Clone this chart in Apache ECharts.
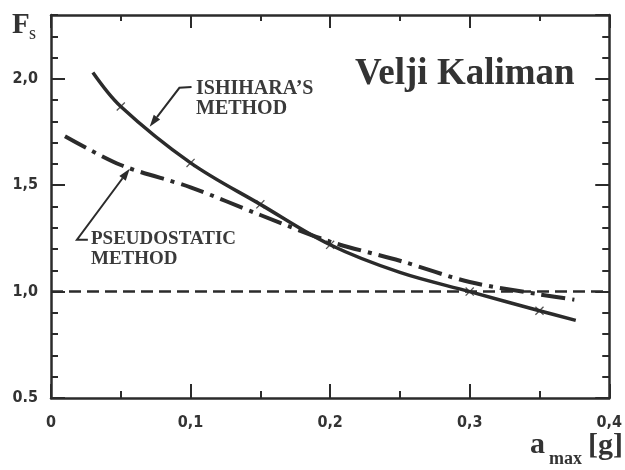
<!DOCTYPE html>
<html><head><meta charset="utf-8">
<script src="https://cdn.jsdelivr.net/npm/echarts@6/dist/echarts.min.js"></script>
<style>html,body{margin:0;padding:0;background:#fff}#c{width:625px;height:470px}</style>
</head><body><div id="c"></div>
<script>
// ---- data ----
const ishiharaX = [0.03, 0.05, 0.1, 0.15, 0.2, 0.25, 0.3, 0.35, 0.376];
const ishiharaY = [2.03, 1.87, 1.605, 1.41, 1.22, 1.09, 1.0, 0.91, 0.865];
const ishiharaMarkX = [0.05, 0.1, 0.15, 0.2, 0.3, 0.35];
const ishiharaMarkY = [1.87, 1.605, 1.41, 1.22, 1.0, 0.91];
const pseudoX = [0.01, 0.05, 0.1, 0.15, 0.2, 0.25, 0.3, 0.35, 0.375];
const pseudoY = [1.73, 1.595, 1.49, 1.36, 1.235, 1.145, 1.045, 0.987, 0.962];
const refX = [0, 0.4];
const refY = [1.0, 1.0];
const xTickValues = [0, 0.1, 0.2, 0.3, 0.4];
const xTickLabels = ['0', '0,1', '0,2', '0,3', '0,4'];
const yTickValues = [0.5, 1.0, 1.5, 2.0];
const yTickLabels = ['0.5', '1,0', '1,5', '2,0'];

const INK = '#2b2b2b';
const zip = (xs, ys) => xs.map((x, i) => [x, ys[i]]);
const findLabel = (vals, labels, v) => {
  for (let i = 0; i < vals.length; i++) if (Math.abs(vals[i] - v) < 1e-6) return labels[i];
  return '';
};
const labelFont = { fontFamily: '"Liberation Sans Narrow", "DejaVu Sans Condensed", sans-serif',
  fontWeight: 'bold', fontSize: 16, color: '#333' };

function xAx(pos, major, minor, showLabel) {
  return {
    type: 'value', position: pos, min: 0, max: 0.4, interval: 0.1,
    axisLine: { show: true, lineStyle: { color: INK, width: 2.5 } },
    axisTick: { show: true, inside: true, length: major, lineStyle: { color: INK, width: 2 } },
    minorTick: { show: true, splitNumber: 2, length: minor, lineStyle: { color: INK, width: 2 } },
    splitLine: { show: false },
    axisLabel: Object.assign({ show: showLabel, margin: 17,
      formatter: v => findLabel(xTickValues, xTickLabels, v) }, labelFont)
  };
}
function yAx(pos, interval, len, showLabel, showLine) {
  return {
    type: 'value', position: pos, min: 0.5, max: 2.3, interval: interval,
    axisLine: { show: showLine, lineStyle: { color: INK, width: 2.5 } },
    axisTick: { show: true, inside: true, length: len, lineStyle: { color: INK, width: 2 } },
    splitLine: { show: false },
    axisLabel: Object.assign({ show: showLabel, margin: 13, showMaxLabel: false,
      formatter: v => findLabel(yTickValues, yTickLabels, v) }, labelFont)
  };
}

const chart = echarts.init(document.getElementById('c'), null, { renderer: 'canvas' });
chart.setOption({
  animation: false,
  backgroundColor: '#fff',
  grid: { left: 51, right: 13, top: 15, bottom: 72 },
  xAxis: [xAx('bottom', 14, 7, true), xAx('top', 13, 6, false)],
  yAxis: [
    yAx('left', 0.5, 14, true, true),
    yAx('left', 0.1, 7, false, false),
    yAx('right', 0.5, 14, false, true),
    yAx('right', 0.1, 7, false, false)
  ],
  series: [
    { type: 'line', name: 'ref', data: zip(refX, refY), showSymbol: false, silent: true,
      lineStyle: { color: INK, width: 2.5, type: [12, 6] } },
    { type: 'line', name: 'pseudostatic', data: zip(pseudoX, pseudoY), smooth: 0.3,
      showSymbol: false, silent: true,
      lineStyle: { color: INK, width: 4, type: [24, 7, 4, 7] } },
    { type: 'line', name: 'ishihara', data: zip(ishiharaX, ishiharaY), smooth: 0.35,
      showSymbol: false, silent: true,
      lineStyle: { color: INK, width: 3.5 } },
    { type: 'scatter', name: 'marks', data: zip(ishiharaMarkX, ishiharaMarkY), silent: true,
      symbol: 'path://M0,1L1,0L5,4L9,0L10,1L6,5L10,9L9,10L5,6L1,10L0,9L4,5Z',
      symbolSize: 9, itemStyle: { color: INK } }
  ]
});

// ---- annotations ----
const px = (pt) => chart.convertToPixel({ xAxisIndex: 0, yAxisIndex: 0 }, pt);
function arrow(ptsData) {
  const pts = ptsData.map(px);
  const T = pts[pts.length - 1], P = pts[pts.length - 2];
  const dx = T[0] - P[0], dy = T[1] - P[1], L = Math.hypot(dx, dy);
  const ux = dx / L, uy = dy / L, nx = -uy, ny = ux;
  const bx = T[0] - ux * 12, by = T[1] - uy * 12;
  return [
    { type: 'polyline', silent: true, shape: { points: pts.slice(0, -1).concat([[bx, by]]) },
      style: { stroke: INK, lineWidth: 2, fill: null } },
    { type: 'polygon', silent: true,
      shape: { points: [T, [bx + nx * 4, by + ny * 4], [bx - nx * 4, by - ny * 4]] },
      style: { fill: INK } }
  ];
}
const serif = '"Liberation Serif", "Times New Roman", serif';
const txt = (text, x, y, font, fill) => ({
  type: 'text', silent: true, x: x, y: y,
  style: { text: text, font: font, fill: fill || '#333', align: 'left', verticalAlign: 'middle' }
});
chart.setOption({
  graphic: [].concat(
    arrow([[0.1007, 1.962], [0.092, 1.958], [0.0707, 1.775]]),
    arrow([[0.0264, 1.244], [0.0186, 1.244], [0.0564, 1.578]]),
    [
      txt('ISHIHARA\u2019S', 196, 89, 'bold 20px ' + serif, '#3a3a3a'),
      txt('METHOD', 196, 109, 'bold 20px ' + serif, '#3a3a3a'),
      txt('PSEUDOSTATIC', 91, 239, 'bold 19px ' + serif, '#3a3a3a'),
      txt('METHOD', 91, 259, 'bold 19px ' + serif, '#3a3a3a'),
      txt('Velji Kaliman', 355, 74, 'bold 37px ' + serif, '#333'),
      txt('F', 12, 26, 'bold 29px ' + serif, '#333'),
      txt('s', 29, 34, '18px ' + serif, '#333'),
      txt('a', 530, 445, 'bold 30px ' + serif, '#333'),
      txt('max', 549, 459, 'bold 18px ' + serif, '#333'),
      txt('[g]', 588, 446, 'bold 30px ' + serif, '#333')
    ]
  )
});
</script>
</body></html>
